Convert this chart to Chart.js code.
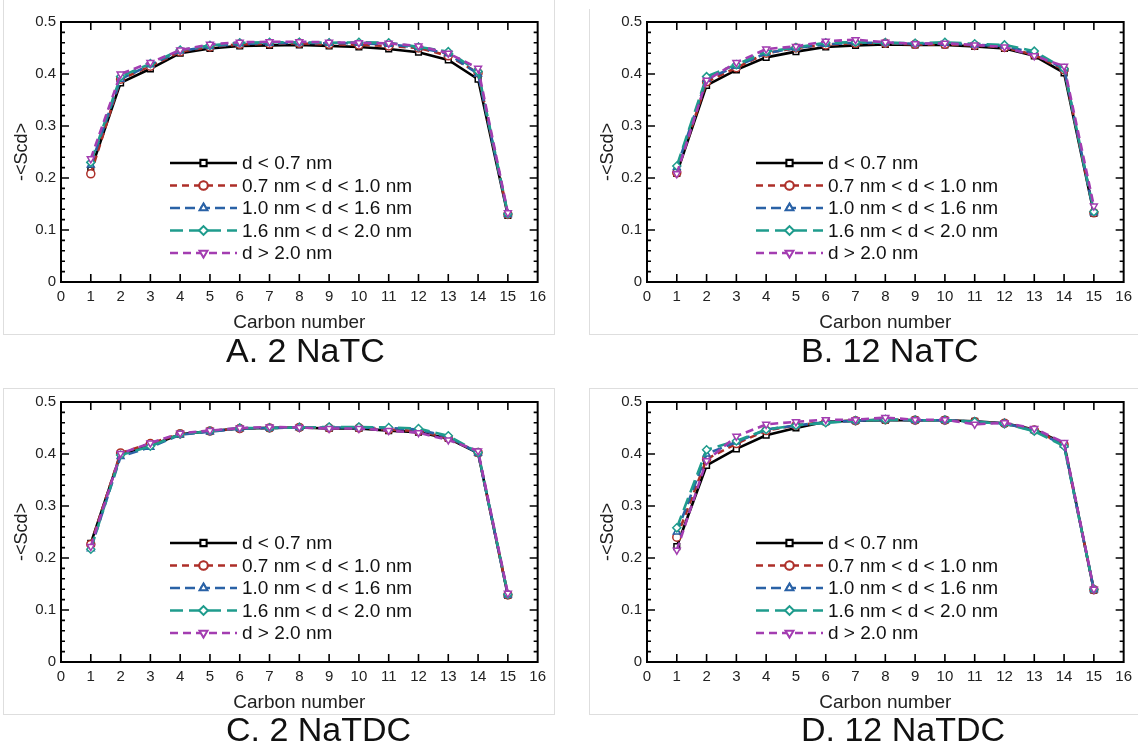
<!DOCTYPE html>
<html>
<head>
<meta charset="utf-8">
<script src="https://cdn.jsdelivr.net/npm/chart.js@4.4.1/dist/chart.umd.min.js"></script>
<style>
  html, body { margin: 0; padding: 0; background: #fff; }
  body { position: relative; width: 1138px; height: 744px; overflow: hidden; font-family: "Liberation Sans", Arial, sans-serif; }
  .box { position: absolute; box-sizing: border-box; border: 1px solid #dedede; }
  canvas { position: absolute; }
  .caption { position: absolute; font-size: 34px; line-height: 34px; color: #111; white-space: nowrap; }
</style>
</head>
<body>
<div class="box" style="left:3px; top:-2px; width:552px; height:337px;"></div>
<div class="box" style="left:589px; top:9px; width:600px; height:326px; border-top:none; border-right:none;"></div>
<div class="box" style="left:3px; top:388px; width:552px; height:327px;"></div>
<div class="box" style="left:589px; top:388px; width:600px; height:327px; border-right:none;"></div>

<canvas id="chartA" width="552" height="334" style="left:0px; top:0px;"></canvas>
<canvas id="chartB" width="552" height="334" style="left:586px; top:0px;"></canvas>
<canvas id="chartC" width="552" height="334" style="left:0px; top:380px;"></canvas>
<canvas id="chartD" width="552" height="334" style="left:586px; top:380px;"></canvas>

<div class="caption" id="capA" style="left:226px; top:333px;"></div>
<div class="caption" id="capB" style="left:801px; top:333px;"></div>
<div class="caption" id="capC" style="left:226px; top:712px;"></div>
<div class="caption" id="capD" style="left:801px; top:712px;"></div>

<script>
// Carbon positions and axis ticks
var carbons = [1, 2, 3, 4, 5, 6, 7, 8, 9, 10, 11, 12, 13, 14, 15];
var xTicks = [0, 1, 2, 3, 4, 5, 6, 7, 8, 9, 10, 11, 12, 13, 14, 15, 16];
var yTicks = [0, 0.1, 0.2, 0.3, 0.4, 0.5];

var seriesLabels = ["d < 0.7 nm", "0.7 nm < d < 1.0 nm", "1.0 nm < d < 1.6 nm", "1.6 nm < d < 2.0 nm", "d > 2.0 nm"];
var panelTitles = ["A. 2 NaTC", "B. 12 NaTC", "C. 2 NaTDC", "D. 12 NaTDC"];

// A. 2 NaTC
var natc2_d07    = [0.215, 0.383, 0.410, 0.440, 0.449, 0.454, 0.455, 0.456, 0.454, 0.452, 0.448, 0.442, 0.427, 0.390, 0.128];
var natc2_d07_10 = [0.208, 0.390, 0.415, 0.443, 0.452, 0.457, 0.458, 0.459, 0.457, 0.456, 0.454, 0.450, 0.435, 0.402, 0.130];
var natc2_d10_16 = [0.225, 0.390, 0.418, 0.444, 0.453, 0.458, 0.459, 0.460, 0.459, 0.459, 0.457, 0.451, 0.439, 0.400, 0.130];
var natc2_d16_20 = [0.230, 0.395, 0.420, 0.446, 0.455, 0.460, 0.461, 0.461, 0.460, 0.461, 0.460, 0.452, 0.443, 0.405, 0.131];
var natc2_d20    = [0.237, 0.400, 0.422, 0.446, 0.457, 0.461, 0.462, 0.462, 0.461, 0.460, 0.459, 0.454, 0.440, 0.411, 0.133];

// B. 12 NaTC
var natc12_d07    = [0.209, 0.378, 0.408, 0.432, 0.443, 0.452, 0.455, 0.457, 0.456, 0.456, 0.453, 0.449, 0.435, 0.402, 0.132];
var natc12_d07_10 = [0.210, 0.385, 0.412, 0.440, 0.450, 0.456, 0.459, 0.459, 0.457, 0.457, 0.455, 0.451, 0.437, 0.408, 0.133];
var natc12_d10_16 = [0.220, 0.390, 0.415, 0.440, 0.450, 0.457, 0.460, 0.460, 0.458, 0.459, 0.456, 0.454, 0.440, 0.410, 0.133];
var natc12_d16_20 = [0.223, 0.395, 0.418, 0.443, 0.451, 0.460, 0.461, 0.460, 0.459, 0.461, 0.458, 0.456, 0.444, 0.410, 0.135];
var natc12_d20    = [0.208, 0.388, 0.422, 0.448, 0.453, 0.463, 0.466, 0.461, 0.458, 0.459, 0.456, 0.452, 0.435, 0.415, 0.146];

// C. 2 NaTDC
var natdc2_d07    = [0.228, 0.400, 0.416, 0.438, 0.444, 0.449, 0.450, 0.451, 0.449, 0.449, 0.445, 0.442, 0.430, 0.402, 0.128];
var natdc2_d07_10 = [0.226, 0.402, 0.420, 0.439, 0.444, 0.449, 0.450, 0.451, 0.450, 0.450, 0.447, 0.444, 0.431, 0.403, 0.129];
var natdc2_d10_16 = [0.218, 0.395, 0.413, 0.437, 0.443, 0.449, 0.450, 0.451, 0.451, 0.451, 0.450, 0.447, 0.433, 0.402, 0.129];
var natdc2_d16_20 = [0.217, 0.398, 0.415, 0.438, 0.444, 0.450, 0.450, 0.451, 0.452, 0.452, 0.451, 0.449, 0.435, 0.403, 0.130];
var natdc2_d20    = [0.222, 0.401, 0.421, 0.440, 0.445, 0.450, 0.452, 0.451, 0.449, 0.449, 0.445, 0.441, 0.427, 0.406, 0.132];

// D. 12 NaTDC
var natdc12_d07    = [0.222, 0.378, 0.410, 0.436, 0.450, 0.462, 0.464, 0.465, 0.465, 0.465, 0.463, 0.459, 0.447, 0.420, 0.138];
var natdc12_d07_10 = [0.240, 0.390, 0.420, 0.445, 0.455, 0.462, 0.464, 0.466, 0.465, 0.465, 0.462, 0.459, 0.446, 0.418, 0.139];
var natdc12_d10_16 = [0.250, 0.400, 0.423, 0.447, 0.455, 0.461, 0.464, 0.466, 0.465, 0.465, 0.462, 0.459, 0.445, 0.417, 0.139];
var natdc12_d16_20 = [0.258, 0.408, 0.425, 0.447, 0.455, 0.460, 0.464, 0.466, 0.465, 0.465, 0.462, 0.458, 0.444, 0.415, 0.140];
var natdc12_d20    = [0.215, 0.387, 0.434, 0.457, 0.462, 0.466, 0.466, 0.470, 0.466, 0.466, 0.457, 0.460, 0.449, 0.422, 0.140];

// Series styles
var colors = ["#000000", "#ad2e28", "#2a62a6", "#1f9c8d", "#a33db1"];
var dashes = [[], [7, 5], [10, 5], [13, 6], [8, 5]];
var markers = ["rect", "circle", "triangle", "rectRot", "triangle"];
var markerRot = [0, 0, 0, 0, 180];

var fontFamily = '"Liberation Sans", Arial, sans-serif';

// Frame, inward ticks (all four sides) and the in-plot legend
var framePlugin = {
    id: "frame",
    afterDatasetsDraw: function(chart) {
        var ctx = chart.ctx;
        var area = chart.chartArea;
        var xs = chart.scales.x;
        var ys = chart.scales.y;
        ctx.save();
        ctx.strokeStyle = "#000";
        ctx.lineWidth = 1.6;
        ctx.beginPath();
        for (var i = 1; i < xTicks.length - 1; i++) {
            var px = xs.getPixelForValue(xTicks[i]);
            ctx.moveTo(px, area.bottom);
            ctx.lineTo(px, area.bottom - 8);
            ctx.moveTo(px, area.top);
            ctx.lineTo(px, area.top + 8);
        }
        for (var v = 2; v < 50; v += 2) {
            var py = ys.getPixelForValue(v / 100);
            var len = (v % 10 === 0) ? 8 : 4;
            ctx.moveTo(area.left, py);
            ctx.lineTo(area.left + len, py);
            ctx.moveTo(area.right, py);
            ctx.lineTo(area.right - len, py);
        }
        ctx.stroke();
        ctx.lineWidth = 2;
        ctx.strokeRect(area.left, area.top, area.right - area.left, area.bottom - area.top);

        // legend
        var x1 = area.left + 109;
        var x2 = area.left + 176;
        var rowY = [141, 163.5, 186, 208.5, 231];
        ctx.font = "19px " + fontFamily;
        ctx.textBaseline = "middle";
        ctx.textAlign = "left";
        chart.data.datasets.forEach(function(ds, k) {
            var y = area.top + rowY[k];
            ctx.strokeStyle = ds.borderColor;
            ctx.lineWidth = ds.borderWidth;
            ctx.setLineDash(ds.borderDash);
            ctx.beginPath();
            ctx.moveTo(x1, y);
            ctx.lineTo(x2, y);
            ctx.stroke();
            ctx.setLineDash([]);
            Chart.helpers.drawPoint(ctx, {
                pointStyle: ds.pointStyle,
                rotation: ds.pointRotation,
                radius: ds.pointRadius,
                borderWidth: ds.pointBorderWidth
            }, (x1 + x2) / 2, y);
            ctx.fillStyle = "#ffffff";
            ctx.strokeStyle = ds.borderColor;
            ctx.lineWidth = ds.pointBorderWidth;
            ctx.fill();
            ctx.stroke();
            ctx.fillStyle = "#111";
            ctx.fillText(ds.label, x2 + 5, y + 1);
        });
        ctx.restore();
    }
};

function makeChart(id, seriesList) {
    var datasets = seriesList.map(function(values, k) {
        return {
            label: seriesLabels[k],
            data: carbons.map(function(c, i) { return {x: c, y: values[i]}; }),
            borderColor: colors[k],
            backgroundColor: "#ffffff",
            borderWidth: 2.6,
            borderDash: dashes[k],
            pointStyle: markers[k],
            pointRotation: markerRot[k],
            pointRadius: 4,
            pointBorderWidth: 1.5,
            pointBackgroundColor: "#ffffff",
            pointBorderColor: colors[k],
            tension: 0,
            order: 4 - k
        };
    });

    return new Chart(document.getElementById(id), {
        type: "line",
        data: { datasets: datasets },
        options: {
            responsive: false,
            animation: false,
            layout: { padding: { left: 0, top: 22, right: 11, bottom: 0 } },
            plugins: { legend: { display: false }, tooltip: { enabled: false } },
            scales: {
                x: {
                    type: "linear",
                    min: 0,
                    max: 16,
                    afterBuildTicks: function(scale) {
                        scale.ticks = xTicks.map(function(v) { return {value: v}; });
                    },
                    afterFit: function(scale) { scale.height = 52; },
                    grid: { display: false, drawTicks: false },
                    border: { display: false },
                    ticks: {
                        autoSkip: false,
                        maxRotation: 0,
                        padding: 6,
                        color: "#222",
                        font: { family: fontFamily, size: 15 }
                    },
                    title: {
                        display: true,
                        text: "Carbon number",
                        color: "#222",
                        padding: { top: 13, bottom: 0 },
                        font: { family: fontFamily, size: 19 }
                    }
                },
                y: {
                    min: 0,
                    max: 0.5,
                    afterBuildTicks: function(scale) {
                        scale.ticks = yTicks.map(function(v) { return {value: v}; });
                    },
                    afterFit: function(scale) { scale.width = 61; },
                    grid: { display: false, drawTicks: false },
                    border: { display: false },
                    ticks: {
                        padding: 5,
                        color: "#222",
                        font: { family: fontFamily, size: 15 },
                        callback: function(v) { return v === 0 ? "0" : v.toFixed(1); }
                    },
                    title: {
                        display: true,
                        text: "-<Scd>",
                        color: "#222",
                        padding: { top: 11, bottom: 0 },
                        font: { family: fontFamily, size: 18 }
                    }
                }
            }
        },
        plugins: [framePlugin]
    });
}

makeChart("chartA", [natc2_d07, natc2_d07_10, natc2_d10_16, natc2_d16_20, natc2_d20]);
makeChart("chartB", [natc12_d07, natc12_d07_10, natc12_d10_16, natc12_d16_20, natc12_d20]);
makeChart("chartC", [natdc2_d07, natdc2_d07_10, natdc2_d10_16, natdc2_d16_20, natdc2_d20]);
makeChart("chartD", [natdc12_d07, natdc12_d07_10, natdc12_d10_16, natdc12_d16_20, natdc12_d20]);

document.getElementById("capA").textContent = panelTitles[0];
document.getElementById("capB").textContent = panelTitles[1];
document.getElementById("capC").textContent = panelTitles[2];
document.getElementById("capD").textContent = panelTitles[3];
</script>
</body>
</html>
